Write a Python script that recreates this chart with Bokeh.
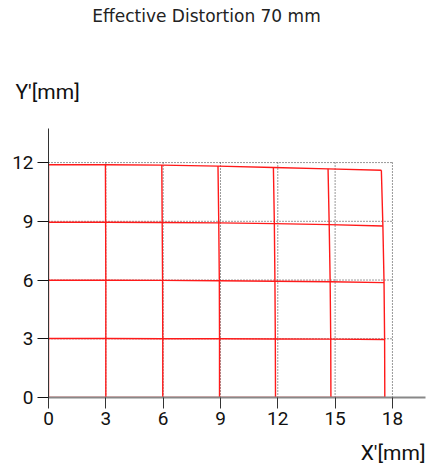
from bokeh.plotting import figure
from bokeh.models import Range1d, FixedTicker
from bokeh.layouts import column
from bokeh.core.properties import value
from bokeh.embed import file_html
from bokeh.resources import INLINE

# Ideal grid positions (mm)
ideal_x = [0, 3, 6, 9, 12, 15, 18]
ideal_y = [0, 3, 6, 9, 12]

# Distorted grid node coordinates: one row per ideal y (0,3,6,9,12), one entry per ideal x
dist_x_y0 = [0, 3.00, 5.98, 8.95, 11.88, 14.78, 17.60]
dist_x_y3 = [0, 3.00, 5.98, 8.95, 11.87, 14.77, 17.59]
dist_x_y6 = [0, 3.00, 5.97, 8.94, 11.85, 14.74, 17.56]
dist_x_y9 = [0, 2.99, 5.95, 8.91, 11.82, 14.69, 17.50]
dist_x_y12 = [0, 2.98, 5.93, 8.87, 11.77, 14.63, 17.42]

dist_y_y0 = [0, 0, 0, 0, 0, 0, 0]
dist_y_y3 = [3.01, 3.01, 3.00, 3.00, 2.99, 2.98, 2.96]
dist_y_y6 = [5.99, 5.99, 5.98, 5.96, 5.94, 5.91, 5.87]
dist_y_y9 = [8.95, 8.95, 8.94, 8.92, 8.88, 8.83, 8.76]
dist_y_y12 = [11.89, 11.89, 11.87, 11.82, 11.75, 11.68, 11.61]

x_ticks = [0, 3, 6, 9, 12, 15, 18]
y_ticks = [0, 3, 6, 9, 12]

title_text = "Effective Distortion 70 mm"
xlabel_text = "X'[mm]"
ylabel_text = "Y'[mm]"

dist_x = [dist_x_y0, dist_x_y3, dist_x_y6, dist_x_y9, dist_x_y12]
dist_y = [dist_y_y0, dist_y_y3, dist_y_y6, dist_y_y9, dist_y_y12]

FONT = "Roboto"
W = 431
HEAD_H = 128
FOOT_H = 32
MAIN_H = 469 - HEAD_H - FOOT_H


def text_strip(h):
    f = figure(width=W, height=h, output_backend="svg", toolbar_location=None,
               x_range=Range1d(0, W), y_range=Range1d(h, 0),
               x_axis_type=None, y_axis_type=None,
               min_border_left=0, min_border_right=0, min_border_top=0, min_border_bottom=0)
    f.frame_align = False
    f.outline_line_color = None
    f.grid.visible = False
    f.background_fill_color = "white"
    f.border_fill_color = "white"
    return f


# header with title and y label
head = text_strip(HEAD_H)
head.text(x=[206], y=[15], text=[title_text], text_align="center", text_baseline="middle",
          text_font=value("DejaVu Sans"), text_font_size=value("17px"), text_color="#222222")
head.text(x=[15], y=[91], text=[ylabel_text], text_align="left", text_baseline="middle",
          text_font=value(FONT), text_font_size=value("21px"), text_color="#111111")

# main plot
p = figure(width=W, height=MAIN_H, output_backend="svg", toolbar_location=None,
           x_range=Range1d(0, 19.73), y_range=Range1d(0, 13.74),
           min_border_left=48, min_border_right=6, min_border_top=0,
           min_border_bottom=MAIN_H - 269)
p.frame_align = False
p.outline_line_color = None
p.grid.visible = False
p.background_fill_color = "white"
p.border_fill_color = "white"

# ideal grid (dotted)
xmax = max(ideal_x)
ymax = max(ideal_y)
for xv in ideal_x[1:]:
    p.line([xv, xv], [0, ymax], line_color="#333333", line_dash="1 2", line_width=1)
for yv in ideal_y[1:]:
    p.line([0, xmax], [yv, yv], line_color="#333333", line_dash="1 2", line_width=1)

# distorted grid (red)
nrows = len(dist_x)
ncols = len(dist_x[0])
for r in range(nrows):
    p.line(dist_x[r], dist_y[r], line_color="#ff1a1a", line_width=1.4)
for c in range(ncols):
    p.line([dist_x[r][c] for r in range(nrows)], [dist_y[r][c] for r in range(nrows)],
           line_color="#ff1a1a", line_width=1.4)

# axes
p.xaxis.ticker = FixedTicker(ticks=x_ticks)
p.yaxis.ticker = FixedTicker(ticks=y_ticks)
p.xaxis.minor_tick_line_color = None
p.yaxis.minor_tick_line_color = None
p.xaxis.axis_line_color = "#888888"
p.xaxis.axis_line_width = 2
p.xaxis.major_tick_line_color = "#333333"
p.xaxis.major_tick_out = 11
p.xaxis.major_tick_in = 0
p.xaxis.major_label_standoff = 3
p.yaxis.axis_line_color = "#333333"
p.yaxis.axis_line_width = 1
p.yaxis.major_tick_line_color = "#111111"
p.yaxis.major_tick_out = 11
p.yaxis.major_tick_in = 0
p.yaxis.major_label_standoff = 4
for ax in (p.xaxis, p.yaxis):
    ax.major_label_text_font = FONT
    ax.major_label_text_font_size = "19px"
    ax.major_label_text_color = "#111111"

# footer with x label
foot = text_strip(FOOT_H)
foot.text(x=[425], y=[452 - (469 - FOOT_H)], text=[xlabel_text], text_align="right",
          text_baseline="middle", text_font=value(FONT), text_font_size=value("21px"),
          text_color="#111111")

layout = column(head, p, foot, spacing=0)
open("out.html", "w").write(file_html(layout, INLINE))
